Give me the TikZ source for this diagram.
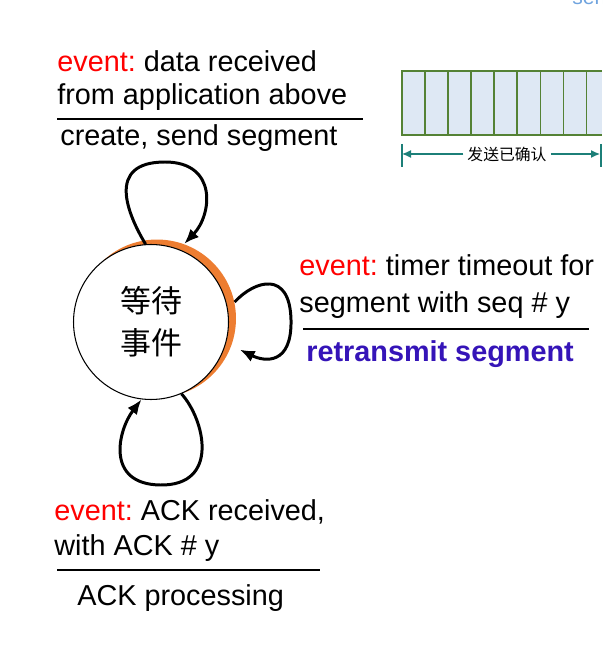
\documentclass[tikz,border=0pt]{standalone}
\usepackage{fontspec}
\setmainfont{Liberation Sans}
\newfontfamily\cjk{Noto Sans CJK SC}
\usepackage{tikz}
\usetikzlibrary{arrows.meta}
\definecolor{evred}{HTML}{FF0000}
\definecolor{actblue}{HTML}{3514B8}
\definecolor{shadeorange}{HTML}{ED7D31}
\definecolor{cellblue}{HTML}{DEE8F4}
\definecolor{cellgreen}{HTML}{548235}
\definecolor{spanteal}{HTML}{1C7F78}
\definecolor{capblue}{HTML}{6FA3DE}
\frenchspacing

\begin{document}
\begin{tikzpicture}[x=0.02cm, y=-0.02cm, >={Latex[length=0.3cm,width=0.24cm]},
  lbl/.style={anchor=base west, inner sep=0pt, font=\fontsize{16.4}{19.7}\selectfont},
  evloop/.style={->, line width=1.7pt},
  rule/.style={line width=1.1pt},
  cell/.style={cellgreen, line width=0.9pt}]
\useasboundingbox (0,0) rectangle (602,661);
% send window (cut at the right edge)
\fill[cellblue] (402,71) rectangle (602,135);
\draw[cell] (602,71) -- (402,71) -- (402,135) -- (602,135);
\foreach \i in {1,...,8} \draw[cell] (402+23.05*\i,71) -- (402+23.05*\i,135);
\coordinate (spanL) at (402,154); \coordinate (spanR) at (600,154);
\draw[spanteal, line width=0.7pt] (402,144) -- (402,167);
\draw[spanteal, line width=0.7pt] (601,144) -- (601,167);
\node[font=\cjk\fontsize{9}{11}\selectfont, inner sep=2.2pt] (acked) at (507,154) {发送已确认};
\draw[spanteal, line width=0.7pt, -{Latex[length=0.18cm,width=0.16cm]}] (acked) -- (spanL);
\draw[spanteal, line width=0.7pt, -{Latex[length=0.18cm,width=0.16cm]}] (acked) -- (spanR);
\begin{scope}
\clip (0,0) rectangle (602,661);
\node[anchor=base west, inner sep=0pt, text=capblue, font=\fontsize{12}{14}\selectfont] (sendcap) at (572,5) {sen};
\end{scope}
% state
\node[circle, fill=shadeorange, minimum size=3.16cm, inner sep=0pt] (waitsh) at (157,318.5) {};
\node[circle, draw, fill=white, line width=0.6pt, minimum size=3.1cm, inner sep=0pt, align=center,
  font=\cjk\fontsize{17.6}{23.8}\selectfont] (wait) at (151,322) {等待\\事件};
% self loops
\draw[evloop] (wait.94) .. controls (128,215) and (105,162) .. (165,162) .. controls (218,162) and (212,215) .. (waitsh.70);
\draw[evloop, shorten >=0.18cm] (waitsh.12) .. controls (255,280) and (290,270) .. (291,320) .. controls (292,365) and (265,362) .. (waitsh.-20);
\draw[evloop] (wait.-67) .. controls (205,420) and (220,486) .. (160,485) .. controls (105,484) and (118,430) .. (wait.-97);
% labels
\node[lbl] (datatxt) at (57,72) {\textcolor{evred}{event:} data received};
\node[lbl] (datatxt2) at (57,105) {from application above};
\draw[rule] (57,119) -- (363,119);
\node[lbl] (sendtxt) at (60,146) {create, send segment};
\node[lbl] (tmotxt) at (299,276) {\textcolor{evred}{event:} timer timeout for};
\node[lbl] (tmotxt2) at (299,312.5) {segment with seq \# y};
\draw[rule] (303,329) -- (589,329);
\node[lbl, text=actblue] (retxt) at (306,361.5) {\bfseries retransmit segment};
\node[lbl] (acktxt) at (54,520) {\textcolor{evred}{event:} ACK received,};
\node[lbl] (acktxt2) at (54,555.7) {with ACK \# y};
\draw[rule] (57,570) -- (320,570);
\node[lbl] (proctxt) at (77,605) {ACK processing};
\end{tikzpicture}
\end{document}
